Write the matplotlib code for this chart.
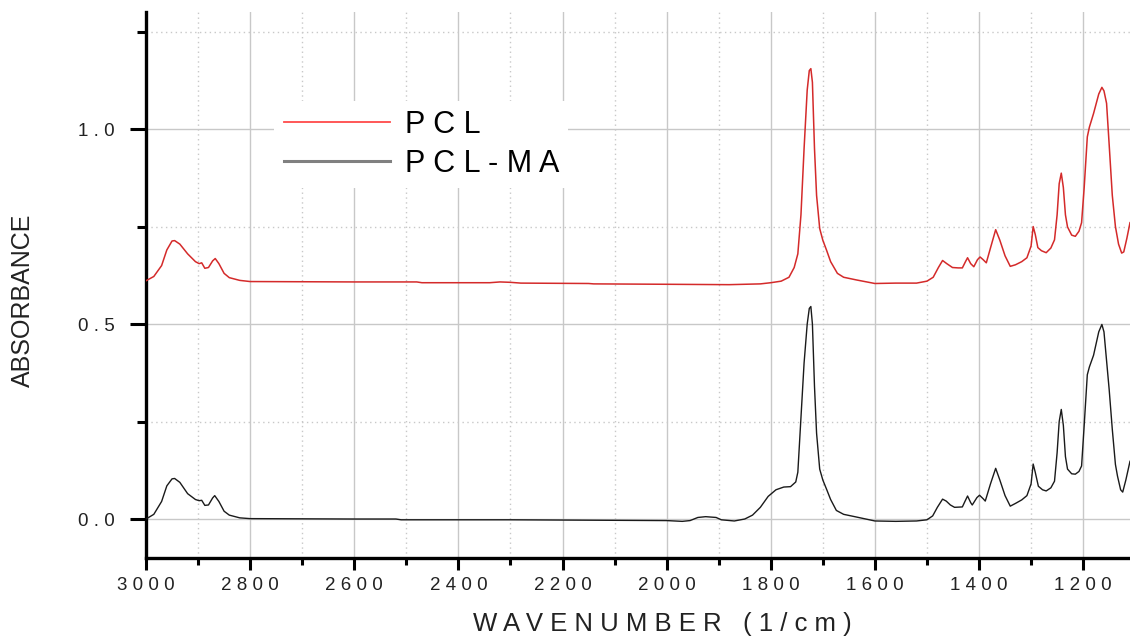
import numpy as np
import matplotlib
matplotlib.use("Agg")
import matplotlib.pyplot as plt
from matplotlib.lines import Line2D
from matplotlib.ticker import MultipleLocator, FuncFormatter

plt.rcParams['font.family'] = ['Liberation Sans', 'DejaVu Sans']

# FTIR spectra (wavenumber in 1/cm, absorbance)
pcl_wn = [3000, 2985, 2970, 2960, 2950, 2945, 2935, 2920, 2905, 2898, 2893, 2887, 2880,
          2872, 2867, 2860, 2850, 2840, 2820, 2800, 2600, 2480, 2470, 2340, 2320, 2300,
          2280, 2150, 2140, 2000, 1880, 1820, 1800, 1780, 1765, 1755, 1748, 1742, 1736,
          1730, 1726, 1723, 1720, 1716, 1712, 1706, 1700, 1693, 1685, 1672, 1660, 1635,
          1600, 1560, 1520, 1500, 1488, 1478, 1470, 1462, 1451, 1440, 1432, 1426, 1422,
          1416, 1410, 1403, 1398, 1392, 1386, 1378, 1368, 1360, 1350, 1340, 1330, 1318,
          1308, 1300, 1296, 1292, 1287, 1280, 1271, 1262, 1255, 1250, 1246, 1242, 1238,
          1234, 1230, 1222, 1215, 1208, 1203, 1198, 1192, 1188, 1180, 1170, 1164, 1160,
          1155, 1150, 1144, 1138, 1132, 1126, 1122, 1116, 1110]
pcl_abs = [0.611, 0.622, 0.650, 0.690, 0.713, 0.714, 0.705, 0.680, 0.660, 0.655, 0.657, 0.643, 0.645,
           0.662, 0.668, 0.655, 0.630, 0.619, 0.612, 0.609, 0.608, 0.608, 0.606, 0.606, 0.608, 0.607,
           0.605, 0.604, 0.603, 0.602, 0.601, 0.603, 0.606, 0.610, 0.620, 0.645, 0.680, 0.780, 0.950,
           1.100, 1.150, 1.155, 1.120, 0.950, 0.830, 0.745, 0.715, 0.690, 0.660, 0.630, 0.620, 0.613,
           0.604, 0.605, 0.605, 0.610, 0.620, 0.645, 0.663, 0.655, 0.645, 0.644, 0.644, 0.660, 0.670,
           0.655, 0.647, 0.665, 0.672, 0.665, 0.657, 0.695, 0.742, 0.715, 0.675, 0.648, 0.652, 0.660,
           0.670, 0.700, 0.750, 0.730, 0.696, 0.688, 0.683, 0.695, 0.716, 0.780, 0.860, 0.887, 0.850,
           0.780, 0.749, 0.728, 0.725, 0.738, 0.760, 0.850, 0.980, 1.005, 1.040, 1.090, 1.107, 1.098,
           1.066, 0.960, 0.830, 0.750, 0.705, 0.682, 0.685, 0.720, 0.760]

ma_wn = [3000, 2985, 2970, 2960, 2950, 2945, 2935, 2920, 2905, 2898, 2893, 2887, 2880,
         2872, 2868, 2860, 2850, 2840, 2820, 2800, 2600, 2520, 2510, 2300, 2000, 1970,
         1955, 1940, 1925, 1905, 1895, 1870, 1850, 1835, 1820, 1805, 1790, 1775, 1762,
         1752, 1748, 1742, 1736, 1730, 1726, 1723, 1720, 1716, 1712, 1706, 1700, 1693,
         1685, 1674, 1660, 1635, 1600, 1560, 1520, 1500, 1489, 1480, 1470, 1463, 1455,
         1447, 1432, 1426, 1422, 1416, 1413, 1404, 1399, 1392, 1388, 1378, 1368, 1360,
         1350, 1340, 1330, 1318, 1308, 1300, 1296, 1292, 1286, 1278, 1271, 1262, 1255,
         1250, 1246, 1242, 1238, 1234, 1230, 1222, 1215, 1208, 1203, 1198, 1192, 1188,
         1180, 1170, 1164, 1160, 1150, 1144, 1138, 1134, 1128, 1124, 1118, 1110]
ma_abs = [0.000, 0.012, 0.045, 0.085, 0.103, 0.104, 0.094, 0.065, 0.050, 0.047, 0.048, 0.035, 0.036,
          0.054, 0.060, 0.045, 0.020, 0.010, 0.003, 0.001, 0.000, 0.000, -0.002, -0.002, -0.004, -0.006,
          -0.004, 0.004, 0.006, 0.004, -0.002, -0.005, 0.000, 0.010, 0.030, 0.058, 0.075, 0.082, 0.083,
          0.095, 0.120, 0.260, 0.400, 0.500, 0.540, 0.545, 0.500, 0.340, 0.220, 0.128, 0.100, 0.077,
          0.050, 0.022, 0.012, 0.005, -0.005, -0.006, -0.005, -0.002, 0.008, 0.030, 0.051, 0.046, 0.036,
          0.030, 0.031, 0.048, 0.059, 0.042, 0.036, 0.055, 0.061, 0.052, 0.046, 0.090, 0.130, 0.100,
          0.060, 0.033, 0.040, 0.049, 0.060, 0.090, 0.141, 0.120, 0.084, 0.075, 0.072, 0.080, 0.097,
          0.170, 0.250, 0.281, 0.240, 0.160, 0.128, 0.116, 0.115, 0.122, 0.136, 0.240, 0.370, 0.390,
          0.420, 0.480, 0.499, 0.480, 0.332, 0.230, 0.140, 0.110, 0.075, 0.069, 0.100, 0.148]

labels = ['PCL', 'PCL-MA']


def spaced(s):
    # the original software draws text with wide letter spacing
    return ' '.join(s)


fig = plt.figure(figsize=(11.3, 6.37), dpi=100)
ax = fig.add_axes([0.1292, 0.124, 0.8708, 0.857])

ax.plot(pcl_wn, pcl_abs, color='#d42a2a', lw=1.1, zorder=3)
ax.plot(ma_wn, ma_abs, color='#1a1a1a', lw=1.0, zorder=3)

ax.set_xlim(3000, 1110)
ax.set_ylim(-0.1, 1.3)

ax.xaxis.set_major_locator(MultipleLocator(200))
ax.xaxis.set_minor_locator(MultipleLocator(100))
ax.yaxis.set_major_locator(MultipleLocator(0.5))
ax.yaxis.set_minor_locator(MultipleLocator(0.25))
ax.xaxis.set_major_formatter(FuncFormatter(lambda v, p: spaced(f'{v:.0f}')))
ax.yaxis.set_major_formatter(FuncFormatter(lambda v, p: spaced(f'{v:.1f}')))

ax.grid(which='major', color='#c8c8c8', lw=1.0, ls='-')
ax.grid(which='minor', color='#c8c8c8', lw=1.0, ls=(0, (1, 2.5)))
ax.set_axisbelow(True)

for side in ['top', 'right']:
    ax.spines[side].set_visible(False)
for side in ['left', 'bottom']:
    ax.spines[side].set_linewidth(2.4)

ax.tick_params(axis='y', which='major', direction='out', length=11.5, width=2.2,
               pad=11, labelsize=13.5, labelcolor='#222222')
ax.tick_params(axis='y', which='minor', direction='out', length=6.5, width=2.2)
ax.tick_params(axis='x', which='major', direction='out', length=8.6, width=2.2,
               pad=5, labelsize=13.5, labelcolor='#222222')
ax.tick_params(axis='x', which='minor', direction='out', length=5, width=2.2)

ax.set_xlabel(spaced('WAVENUMBER') + '   ' + spaced('(1/cm)'), fontsize=18.5, color='#222222')
ax.xaxis.set_label_coords(0.525, -0.099)
ax.set_ylabel('ABSORBANCE', fontsize=18, color='#222222')
ax.yaxis.set_label_coords(-0.113, 0.4725)

handles = [Line2D([], [], color='#ff4a4a', lw=1.3),
           Line2D([], [], color='#808080', lw=2.2)]
leg = ax.legend(handles, [spaced(l) for l in labels], loc='upper left',
                bbox_to_anchor=(0.115, 0.866), fontsize=22, frameon=True,
                facecolor='white', edgecolor='none', framealpha=1.0,
                handlelength=3.47, handletextpad=0.49, labelspacing=0.3,
                borderpad=0.3, fancybox=False)
leg.set_zorder(4)

fig.savefig('out.png', dpi=100)
